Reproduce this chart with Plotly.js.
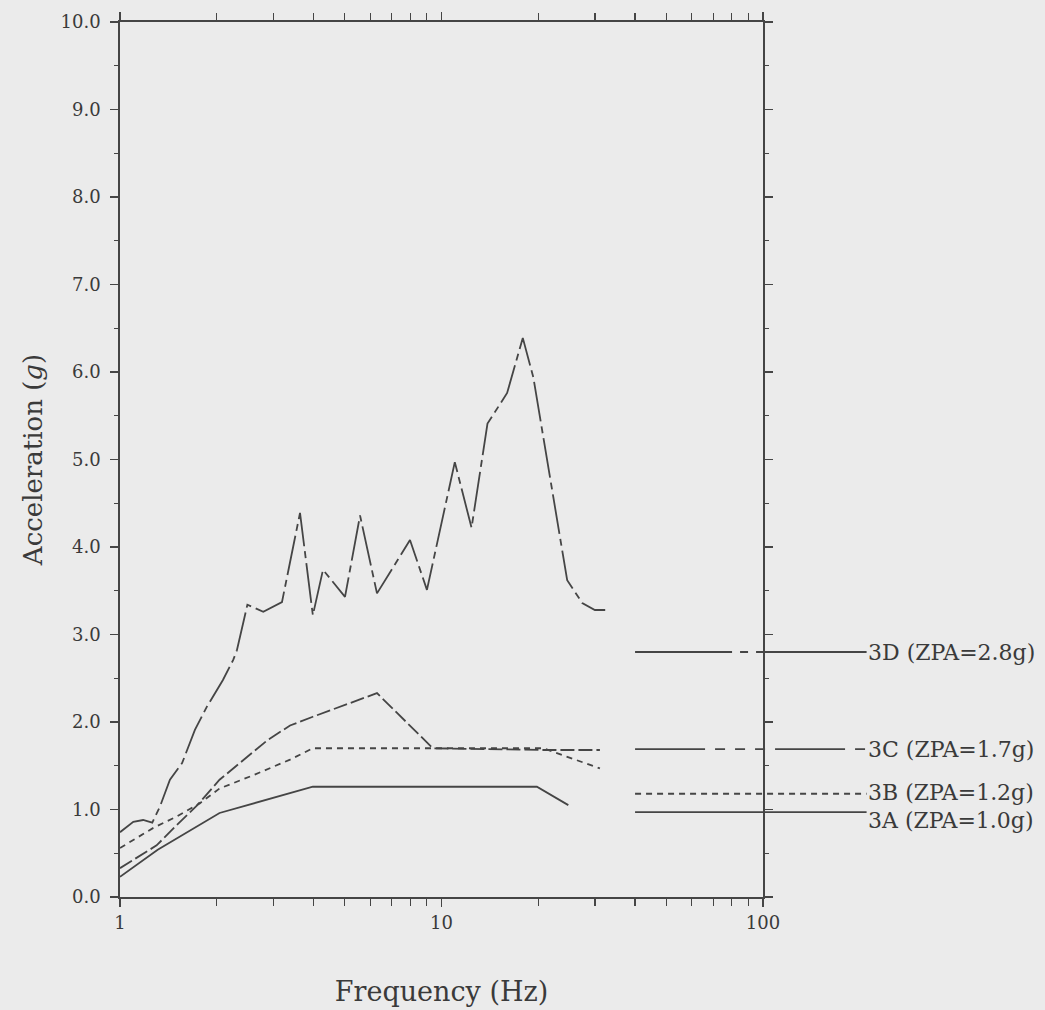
<!DOCTYPE html>
<html>
<head>
<meta charset="utf-8">
<script src="https://cdn.plot.ly/plotly-3.0.1.min.js"></script>
<style>
  html, body { margin: 0; padding: 0; background: #ebebeb; }
  #chart { width: 1045px; height: 1010px; }
</style>
</head>
<body>
<div id="chart"></div>
<script>
// ---- Data ----
const freq3D = [1.0, 1.10, 1.18, 1.26, 1.33, 1.43, 1.56, 1.71, 1.86, 2.09, 2.25, 2.31, 2.49, 2.79, 3.19, 3.63, 3.98, 4.28, 5.01, 5.58, 6.30, 7.98, 9.01, 11.0, 12.4, 13.9, 16.0, 17.9, 19.3, 24.6, 27.4, 30.0, 32.3];
const acc3D  = [0.74, 0.86, 0.88, 0.85, 1.03, 1.34, 1.53, 1.91, 2.17, 2.48, 2.71, 2.82, 3.34, 3.26, 3.37, 4.39, 3.22, 3.74, 3.43, 4.36, 3.47, 4.08, 3.51, 4.97, 4.22, 5.41, 5.76, 6.39, 5.94, 3.62, 3.36, 3.28, 3.28];

const freq3C = [1.0, 1.30, 1.50, 1.74, 2.04, 2.87, 3.38, 3.98, 6.3, 9.4, 20.7, 31.1];
const acc3C  = [0.33, 0.59, 0.82, 1.05, 1.34, 1.79, 1.96, 2.06, 2.33, 1.70, 1.68, 1.68];

const freq3B = [1.0, 1.27, 1.50, 1.77, 2.04, 2.59, 3.38, 3.98, 20.7, 31.1];
const acc3B  = [0.56, 0.79, 0.92, 1.07, 1.24, 1.39, 1.57, 1.70, 1.70, 1.47];

const freq3A = [1.0, 1.31, 2.04, 3.98, 19.8, 24.8];
const acc3A  = [0.23, 0.54, 0.96, 1.26, 1.26, 1.05];

const zpaLabels = ['3D (ZPA=2.8g)', '3C (ZPA=1.7g)', '3B (ZPA=1.2g)', '3A (ZPA=1.0g)'];
const zpaValues = [2.80, 1.69, 1.18, 0.97];
const zpaFreqRange = [40, 210];

const xTickVals = [1, 10, 100];
const xTickText = ['1', '10', '100'];
const xMinorVals = [2, 3, 4, 5, 6, 7, 8, 9, 20, 30, 40, 50, 60, 70, 80, 90];

// ---- Styling ----
const ink = '#454545';
const txt = '#3a3a3a';
const fontFam = 'DejaVu Serif, serif';
const W = 1045, H = 1010;
const mL = 120, mR = 0, mT = 22, mB = 113;
const plotRightPx = 763;                       // pixel where x = 100
const dom = (plotRightPx - mL) / (W - mL - mR); // fraction of paper for main subplot
const styles = {
  '3D': {dash: '40px,5px,7px,5px', width: 1.8},
  '3C': {dash: '14px,4px', width: 1.8},
  '3B': {dash: '6px,5px', width: 1.8},
  '3A': {dash: 'solid', width: 1.8}
};
const zpaDash = ['97px,8px,8px,8px,140px,8px', '70px,10px,10px,10px,10px,10px,10px,10px', '6px,5px', 'solid'];

const series = [
  {name: '3D', x: freq3D, y: acc3D},
  {name: '3C', x: freq3C, y: acc3C},
  {name: '3B', x: freq3B, y: acc3B},
  {name: '3A', x: freq3A, y: acc3A}
];

const traces = series.map(s => ({
  type: 'scatter', mode: 'lines', x: s.x, y: s.y, name: s.name,
  xaxis: 'x', yaxis: 'y',
  line: {color: ink, width: styles[s.name].width, dash: styles[s.name].dash},
  hoverinfo: 'skip', showlegend: false
}));

zpaValues.forEach((v, i) => {
  traces.push({
    type: 'scatter', mode: 'lines',
    x: zpaFreqRange, y: [v, v],
    xaxis: 'x2', yaxis: 'y2',
    line: {color: ink, width: 1.8, dash: zpaDash[i]},
    hoverinfo: 'skip', showlegend: false
  });
});

const annotations = zpaLabels.map((t, i) => ({
  xref: 'x2', yref: 'y2',
  x: Math.log10(zpaFreqRange[1]), y: zpaValues[i],
  text: t, showarrow: false, xanchor: 'left', yanchor: 'middle',
  xshift: -1, yshift: (i === 3 ? -8 : (i === 2 ? 1 : 0)),
  font: {family: fontFam, size: 22, color: txt}
}));

const layout = {
  width: W, height: H,
  margin: {l: mL, r: mR, t: mT, b: mB},
  paper_bgcolor: '#ebebeb',
  plot_bgcolor: 'rgba(0,0,0,0)',
  showlegend: false,
  xaxis: {
    type: 'log', range: [0, 2], domain: [0, dom], anchor: 'y',
    showline: true, linecolor: ink, linewidth: 1.8, mirror: 'ticks',
    showgrid: false, zeroline: false,
    ticks: 'outside', ticklen: 8, tickwidth: 1.5, tickcolor: ink,
    tickmode: 'array', tickvals: xTickVals, ticktext: xTickText,
    tickfont: {family: fontFam, size: 18, color: txt},
    ticklabelstandoff: 1,
    minor: {tickmode: 'array', tickvals: xMinorVals, ticks: 'outside', ticklen: 7, tickwidth: 1.3, tickcolor: ink, showgrid: false},
    title: {text: 'Frequency (Hz)', font: {family: fontFam, size: 27, color: txt}, standoff: 50}
  },
  yaxis: {
    range: [0, 10], domain: [0, 1], anchor: 'x',
    showline: true, linecolor: ink, linewidth: 1.8, mirror: 'ticks',
    showgrid: false, zeroline: false,
    ticks: 'outside', ticklen: 8, tickwidth: 1.5, tickcolor: ink,
    tickmode: 'linear', tick0: 0, dtick: 1, tickformat: '.1f',
    tickfont: {family: fontFam, size: 18, color: txt},
    ticklabelstandoff: 6,
    minor: {dtick: 0.5, ticks: 'outside', ticklen: 4, tickwidth: 1.3, tickcolor: ink, showgrid: false},
    title: {text: 'Acceleration (<i>g</i>)', font: {family: fontFam, size: 26, color: txt}, standoff: 10}
  },
  xaxis2: {
    type: 'log', range: [0, 2 / dom], domain: [0, 1], anchor: 'y2',
    visible: false, showgrid: false, zeroline: false
  },
  yaxis2: {
    range: [0, 10], domain: [0, 1], anchor: 'x2',
    visible: false, showgrid: false, zeroline: false
  },
  annotations: annotations
};

Plotly.newPlot('chart', traces, layout, {displayModeBar: false, staticPlot: true});
</script>
</body>
</html>
